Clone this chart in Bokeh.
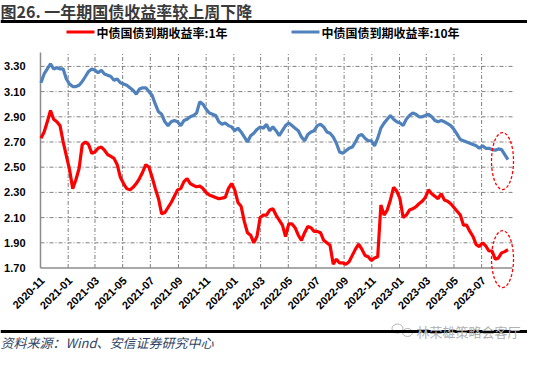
import math
import numpy as np
import pandas as pd
from bokeh.plotting import figure
from bokeh.models import Label, BoxAnnotation, Range1d
from bokeh.embed import file_html
from bokeh.resources import INLINE
from bokeh.core.properties import value

# ---------------- data (weekly readings) ----------------
start_date = "2020-11-02"
yield_10y = [3.17, 3.24, 3.28, 3.32, 3.28, 3.29, 3.28, 3.28, 3.20, 3.16,
             3.14, 3.14, 3.15, 3.18, 3.22, 3.26, 3.28, 3.27, 3.25, 3.27,
             3.24, 3.23, 3.22, 3.19, 3.20, 3.17, 3.16, 3.15, 3.13, 3.11,
             3.08, 3.12, 3.13, 3.13, 3.10, 3.07, 3.00, 2.94, 2.92, 2.86,
             2.83, 2.86, 2.87, 2.86, 2.83, 2.87, 2.88, 2.90, 2.91, 2.93,
             3.02, 3.00, 2.96, 2.93, 2.92, 2.91, 2.86, 2.84, 2.85, 2.83,
             2.82, 2.79, 2.81, 2.78, 2.74, 2.70, 2.75, 2.77, 2.80, 2.82,
             2.81, 2.84, 2.79, 2.82, 2.79, 2.75, 2.79, 2.83, 2.85, 2.83,
             2.81, 2.79, 2.74, 2.71, 2.76, 2.78, 2.79, 2.83, 2.84, 2.82,
             2.78, 2.77, 2.74, 2.69, 2.62, 2.61, 2.63, 2.65, 2.66, 2.70,
             2.75, 2.76, 2.73, 2.71, 2.71, 2.67, 2.73, 2.81, 2.85, 2.88,
             2.91, 2.88, 2.86, 2.85, 2.83, 2.88, 2.91, 2.93, 2.92, 2.90,
             2.90, 2.91, 2.92, 2.90, 2.87, 2.86, 2.87, 2.86, 2.845, 2.83,
             2.80, 2.76, 2.72, 2.71, 2.70, 2.69, 2.68, 2.67, 2.65, 2.67,
             2.65, 2.65, 2.64, 2.635, 2.645, 2.64, 2.60, 2.56]
yield_1y = [2.73, 2.78, 2.86, 2.95, 2.88, 2.86, 2.83, 2.70, 2.59, 2.48,
            2.33, 2.40, 2.49, 2.68, 2.70, 2.68, 2.61, 2.62, 2.65, 2.66,
            2.635, 2.60, 2.585, 2.57, 2.52, 2.42, 2.37, 2.33, 2.32, 2.34,
            2.37, 2.41, 2.46, 2.52, 2.50, 2.42, 2.33, 2.25, 2.13, 2.14,
            2.18, 2.22, 2.27, 2.32, 2.33, 2.385, 2.41, 2.37, 2.355, 2.345,
            2.35, 2.33, 2.30, 2.28, 2.27, 2.26, 2.25, 2.255, 2.26, 2.33,
            2.37, 2.32, 2.22, 2.19, 2.07, 1.98, 1.96, 1.90, 1.95, 2.10,
            2.12, 2.12, 2.16, 2.17, 2.12, 2.08, 2.04, 1.95, 2.05, 2.05,
            2.02, 1.96, 1.92, 1.98, 2.03, 2.02, 1.99, 1.99, 1.98, 1.92,
            1.90, 1.88, 1.73, 1.77, 1.74, 1.74, 1.73, 1.75, 1.80, 1.85,
            1.89, 1.85, 1.80, 1.79, 1.76, 1.78, 1.79, 2.20, 2.12, 2.16,
            2.24, 2.34, 2.31, 2.25, 2.10, 2.12, 2.16, 2.17, 2.185, 2.21,
            2.23, 2.26, 2.32, 2.29, 2.27, 2.25, 2.29, 2.24, 2.23, 2.21,
            2.18, 2.15, 2.12, 2.04, 2.04, 1.99, 1.95, 1.885, 1.87, 1.90,
            1.875, 1.835, 1.835, 1.77, 1.78, 1.82, 1.83, 1.845]
x_tick_labels = ["2020-11", "2021-01", "2021-03", "2021-05", "2021-07", "2021-09",
                 "2021-11", "2022-01", "2022-03", "2022-05", "2022-07", "2022-09",
                 "2022-11", "2023-01", "2023-03", "2023-05", "2023-07"]
y_ticks = [1.70, 1.90, 2.10, 2.30, 2.50, 2.70, 2.90, 3.10, 3.30]
name_1y = "中债国债到期收益率:1年"
name_10y = "中债国债到期收益率:10年"
title_text = "图26. 一年期国债收益率较上周下降"
source_text = "资料来源：Wind、安信证券研究中心"
watermark_text = "林荣雄策略会客厅"

dates = pd.date_range(start_date, periods=len(yield_1y), freq="7D")

# ---------------- scales: page pixel <-> data ----------------
W, H = 527, 350
ms = lambda t: pd.Timestamp(t).value / 1e6
X0 = ms("2020-11-01")                         # at page x = 48
X1 = ms(pd.Timestamp("2020-11-01") + pd.Timedelta(days=1040))   # at page x = 520
XS = (X1 - X0) / 472.0                        # ms per pixel
YMIN, YPX = 1.70, 126.0                       # 1.70 at page y 275.5, px per unit
YTOP = YMIN + (275.5 - 60) / YPX              # top of plot area


def PX(px):
    return X0 + (px - 48) * XS


def PY(py):
    return YMIN + (275.5 - py) / YPX


p = figure(width=W, height=H, output_backend="svg", toolbar_location=None,
           x_range=Range1d(PX(8), PX(535)), y_range=Range1d(PY(358), PY(8)),
           x_axis_location=None, y_axis_location=None, min_border=0)
p.grid.visible = False
p.outline_line_color = None
p.background_fill_color = "white"
p.border_fill_color = "white"

GRID = dict(line_color="#808080", line_width=1, line_dash="4 2 1 2")
tick_ms = [ms(t + "-01") for t in x_tick_labels]

# grid
p.segment(x0=[X0] * (len(y_ticks) - 1), x1=[X1] * (len(y_ticks) - 1),
          y0=y_ticks[1:], y1=y_ticks[1:], **GRID)
p.segment(x0=tick_ms[1:], x1=tick_ms[1:], y0=[YMIN] * (len(tick_ms) - 1),
          y1=[YTOP] * (len(tick_ms) - 1), **GRID)

# axis lines
p.segment(x0=[X0, X0], x1=[X0, X1], y0=[YMIN, YMIN], y1=[YTOP, YMIN],
          line_color="#8c8c8c", line_width=1.5)

# tick labels
p.text(x=[PX(33)] * len(y_ticks), y=y_ticks, text=["%.2f" % v for v in y_ticks],
       text_align="right", text_baseline="middle", text_font=value("Liberation Sans"),
       text_font_style="bold", text_font_size="11px", text_color="black")
p.text(x=[t + 2 * XS for t in tick_ms], y=[PY(286)] * len(tick_ms), text=x_tick_labels,
       angle=math.pi / 4, text_align="right", text_baseline="middle",
       text_font=value("Liberation Sans"), text_font_style="bold",
       text_font_size="11px", text_color="black")

# series
p.line(dates, yield_1y, line_color="#ff0000", line_width=3.2)
p.line(dates, yield_10y, line_color="#4f81bd", line_width=3.2)

# highlight ellipses
p.ellipse(x=[ms("2023-08-16")] * 2, y=[2.549, 1.771], width=22 * XS, height=57 / YPX,
          fill_color=None, line_color="#ff0000", line_dash="3 2", line_width=1.3)

# title, rules, legend, source, watermark
p.add_layout(Label(x=PX(8), y=PY(18.5), text=title_text, text_baseline="middle",
                   text_font="Noto Sans CJK SC", text_font_style="bold",
                   text_font_size="16px", text_color="#3a3a3a"))
for top in (27.5, 337.5):
    p.add_layout(BoxAnnotation(left=PX(8), right=PX(535), top=PY(top), bottom=PY(top + 3),
                               fill_color="black", fill_alpha=1, line_color=None))
for lx, col, txt in ((74, "#ff0000", name_1y), (299, "#4f81bd", name_10y)):
    p.add_layout(BoxAnnotation(left=PX(lx), right=PX(lx + 28), top=PY(38), bottom=PY(41),
                               fill_color=col, fill_alpha=1, line_color=None))
    p.add_layout(Label(x=PX(lx + 30), y=PY(39.5), text=txt, text_baseline="middle",
                       text_font="Noto Sans CJK SC", text_font_style="bold",
                       text_font_size="12px", text_color="black"))
p.add_layout(Label(x=PX(8), y=PY(349.5), text=source_text, text_baseline="middle",
                   text_font="Noto Sans CJK SC", text_font_style="italic",
                   text_font_size="13px", text_color="#2f4565"))
p.ellipse(x=[PX(405), PX(415)], y=[PY(336), PY(340)], width=[11 * XS, 10 * XS],
          height=[9 / YPX, 8 / YPX], fill_color="white", line_color="#b5b5b5", line_width=1)
p.add_layout(Label(x=PX(424), y=PY(339), text=watermark_text, text_baseline="middle",
                   text_font="Noto Sans CJK SC", text_font_size="13px",
                   text_color="#b0b0b0"))

open("out.html", "w").write(file_html(p, INLINE))
